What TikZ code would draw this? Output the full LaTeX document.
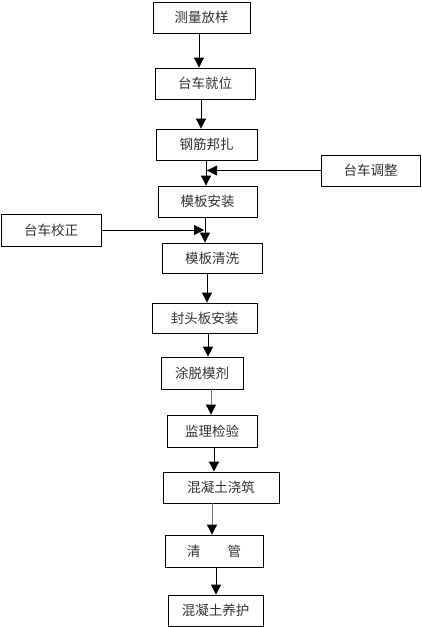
\documentclass[tikz,border=0pt]{standalone}
\usepackage{fontspec}
\setmainfont{Noto Sans CJK SC}
\usetikzlibrary{arrows.meta}
\begin{document}
\begin{tikzpicture}[x=1pt,y=-1pt,
  box/.style={draw=black,line width=0.8pt,minimum height=31pt,inner sep=0pt,
    font=\fontsize{13.5pt}{15pt}\selectfont,text=black!80},
  arr/.style={line width=0.8pt,-{Triangle[width=10pt,length=10pt]}},
  garr/.style={arr,draw=black!55,-{Triangle[width=10pt,length=10pt,fill=black,color=black]}}]
\useasboundingbox[fill=white] (0,0) rectangle (421,627);
\node[box,minimum width=97pt]  (n1)  at (201.5,17.5) {测量放样};
\node[box,minimum width=100pt] (n2)  at (205,83.5)  {台车就位};
\node[box,minimum width=101pt] (n3)  at (206.5,144.5) {钢筋邦扎};
\node[box,minimum width=99pt]  (r)   at (370.5,170.5) {台车调整};
\node[box,minimum width=99pt]  (n4)  at (207.5,201.5) {模板安装};
\node[box,minimum width=100pt,minimum height=32pt] (l) at (51,230) {台车校正};
\node[box,minimum width=100pt,minimum height=30pt] (n5) at (212,258) {模板清洗};
\node[box,minimum width=105pt,minimum height=30pt] (n6) at (204.5,318) {封头板安装};
\node[box,minimum width=82pt,minimum height=32pt]  (n7) at (202,373) {涂脱模剂};
\node[box,minimum width=90pt,minimum height=32pt]  (n8) at (212,431) {监理检验};
\node[box,minimum width=116pt] (n9)  at (221,487.5) {混凝土浇筑};
\node[box,minimum width=98pt,minimum height=32pt] (n10) at (214,551) {清\hspace{2em}管};
\node[box,minimum width=95pt]  (n11) at (215.5,610.5) {混凝土养护};
\coordinate (a1) at (199,0);
\coordinate (a2) at (201,0);
\coordinate (a3) at (206,0);
\coordinate (a4) at (205,0);
\coordinate (a5) at (207,0);
\coordinate (a6) at (208,0);
\coordinate (a7) at (211,0);
\coordinate (a8) at (214,0);
\coordinate (a9) at (212,0);
\coordinate (a10) at (216,0);
\coordinate (tr) at (207,0);
\coordinate (tl) at (204,0);
\draw[arr] (n1.south -| a1) -- (n2.north -| a1);
\draw[arr] (n2.south -| a2) -- (n3.north -| a2);
\draw[arr] (n3.south -| a3) -- (n4.north -| a3);
\draw[arr] (n4.south -| a4) -- (n5.north -| a4);
\draw[arr] (n5.south -| a5) -- (n6.north -| a5);
\draw[arr] (n6.south -| a6) -- (n7.north -| a6);
\draw[garr] (n7.south -| a7) -- (n8.north -| a7);
\draw[arr] (n8.south -| a8) -- (n9.north -| a8);
\draw[garr] (n9.south -| a9) -- (n10.north -| a9);
\draw[arr] (n10.south -| a10) -- (n11.north -| a10);
\draw[arr] (r.west) -- (r.west -| tr);
\draw[arr] (l.east) -- (l.east -| tl);
\end{tikzpicture}
\end{document}
